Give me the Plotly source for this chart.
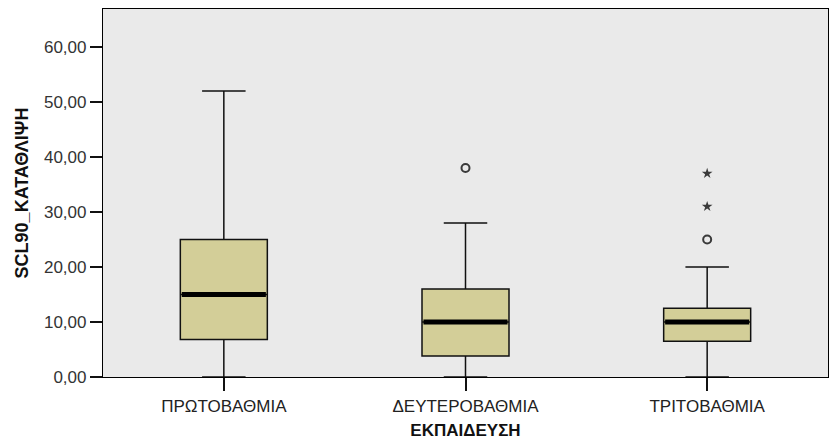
import plotly.graph_objects as go

# Education levels and SCL-90 depression summary statistics
categories = ["ΠΡΩΤΟΒΑΘΜΙΑ", "ΔΕΥΤΕΡΟΒΑΘΜΙΑ", "ΤΡΙΤΟΒΑΘΜΙΑ"]
lower_whisker = [0.0, 0.0, 0.0]
q1 = [6.8, 3.8, 6.5]
median = [15.0, 10.0, 10.0]
q3 = [25.0, 16.0, 12.5]
upper_whisker = [52.0, 28.0, 20.0]

# Outliers (circles) and extreme values (stars)
outlier_x = [1, 2]
outlier_y = [38.0, 25.0]
extreme_x = [2, 2]
extreme_y = [31.0, 37.0]

y_ticks = [0, 10, 20, 30, 40, 50, 60]
y_tick_labels = ["0,00", "10,00", "20,00", "30,00", "40,00", "50,00", "60,00"]

box_w = 0.36
pos = list(range(len(categories)))

fig = go.Figure()
fig.add_trace(go.Box(
    x=pos, q1=q1, median=median, q3=q3,
    lowerfence=lower_whisker, upperfence=upper_whisker,
    width=box_w, whiskerwidth=0.5,
    fillcolor="#D3CE98", line=dict(color="#111111", width=1.5),
    boxpoints=False, showlegend=False, hoverinfo="skip",
))

# Thick median bars
for i, m in zip(pos, median):
    fig.add_trace(go.Scatter(
        x=[i - box_w / 2 + 0.006, i + box_w / 2 - 0.006], y=[m, m],
        mode="lines", line=dict(color="black", width=5),
        showlegend=False, hoverinfo="skip",
    ))

fig.add_trace(go.Scatter(
    x=outlier_x, y=outlier_y, mode="markers",
    marker=dict(symbol="circle-open", size=8, color="#3a3a3a", line=dict(width=2)),
    showlegend=False, hoverinfo="skip",
))
fig.add_trace(go.Scatter(
    x=extreme_x, y=extreme_y, mode="markers",
    marker=dict(symbol="star", size=8, color="#3a3a3a"),
    showlegend=False, hoverinfo="skip",
))

font_family = "Liberation Sans, Arial, sans-serif"
fig.update_layout(
    width=829, height=443,
    margin=dict(l=103, r=1, t=9, b=66),
    paper_bgcolor="white", plot_bgcolor="#EAEAEA",
    font=dict(family=font_family, size=17, color="#222222"),
)
fig.update_xaxes(
    range=[-0.5, 2.5], tickvals=pos, ticktext=categories,
    showline=True, mirror=True, linecolor="black", linewidth=1.2,
    ticks="outside", ticklen=13, tickcolor="#111111", tickwidth=1.5,
    showgrid=False, zeroline=False,
    tickfont=dict(size=17, color="#222222"),
    title=dict(text="<b>ΕΚΠΑΙΔΕΥΣΗ</b>", font=dict(size=17, color="#111111"), standoff=9),
)
fig.update_yaxes(
    range=[0, 66.9], tickvals=y_ticks, ticktext=y_tick_labels,
    showline=True, mirror=True, linecolor="black", linewidth=1.2,
    ticks="outside", ticklen=12, tickcolor="#111111", tickwidth=1.5,
    showgrid=False, zeroline=False,
    tickfont=dict(size=17, color="#333333"),
    title=dict(text="<b>SCL90_ΚΑΤΑΘΛΙΨΗ</b>", font=dict(size=18, color="#111111"), standoff=10),
)

fig.write_html("out.html")
